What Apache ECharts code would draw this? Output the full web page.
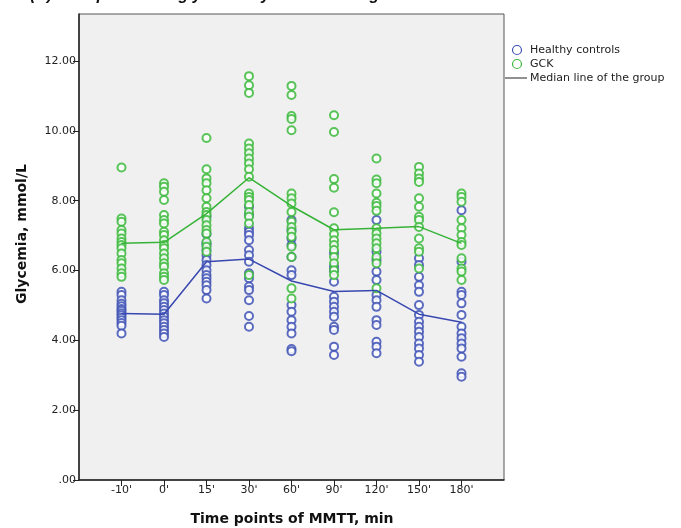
<!DOCTYPE html>
<html>
<head>
<meta charset="utf-8">
<script src="https://cdn.jsdelivr.net/npm/echarts@6/dist/echarts.min.js"></script>
<style>html,body{margin:0;padding:0;background:#fff}#c{width:681px;height:528px}</style>
</head>
<body>
<div id="c"></div>
<script>
var categories = ["-10'", "0'", "15'", "30'", "60'", "90'", "120'", "150'", "180'"];
var yTicks = [0, 2, 4, 6, 8, 10, 12];

var healthyValues = [
  [5.39, 5.30, 5.15, 5.05, 4.98, 4.90, 4.85, 4.78, 4.72, 4.65, 4.58, 4.50, 4.42, 4.20],
  [5.39, 5.30, 5.15, 5.06, 4.96, 4.87, 4.77, 4.68, 4.58, 4.49, 4.39, 4.30, 4.20, 4.10],
  [7.55, 7.05, 6.79, 6.73, 6.59, 6.44, 6.30, 6.16, 6.01, 5.87, 5.78, 5.68, 5.58, 5.44, 5.20],
  [7.83, 7.59, 7.21, 7.11, 7.02, 6.87, 6.59, 6.44, 6.25, 5.92, 5.78, 5.54, 5.44, 5.15, 4.70, 4.39],
  [7.45, 7.16, 6.92, 6.73, 6.39, 6.01, 5.87, 5.01, 4.82, 4.58, 4.39, 4.20, 3.75, 3.69],
  [6.50, 6.11, 6.00, 5.68, 5.25, 5.11, 4.96, 4.82, 4.68, 4.39, 4.30, 3.82, 3.58],
  [7.45, 6.54, 6.30, 5.97, 5.73, 5.30, 5.15, 4.96, 4.58, 4.44, 3.96, 3.82, 3.63],
  [6.35, 6.16, 5.82, 5.58, 5.39, 5.01, 4.73, 4.53, 4.39, 4.25, 4.10, 3.91, 3.77, 3.58, 3.39],
  [7.73, 6.25, 5.39, 5.30, 5.06, 4.73, 4.39, 4.20, 4.06, 3.91, 3.77, 3.53, 3.06, 2.96]
];
var gckValues = [
  [8.95, 7.49, 7.40, 7.16, 7.06, 6.92, 6.82, 6.73, 6.64, 6.49, 6.30, 6.21, 6.06, 5.92, 5.82],
  [8.50, 8.40, 8.26, 8.02, 7.59, 7.45, 7.35, 7.11, 7.02, 6.87, 6.73, 6.64, 6.49, 6.35, 6.21, 6.11, 5.92, 5.82, 5.73],
  [9.80, 8.90, 8.64, 8.50, 8.30, 8.07, 7.83, 7.68, 7.59, 7.45, 7.30, 7.16, 7.06, 6.82, 6.68, 6.54],
  [11.57, 11.31, 11.09, 9.64, 9.50, 9.36, 9.21, 9.07, 8.90, 8.69, 8.21, 8.11, 8.02, 7.88, 7.68, 7.54, 7.35, 5.87],
  [11.29, 11.03, 10.43, 10.34, 10.02, 8.21, 8.07, 7.92, 7.68, 7.40, 7.25, 7.11, 6.97, 6.68, 6.39, 5.49, 5.20],
  [10.45, 9.97, 8.62, 8.37, 7.67, 7.21, 7.04, 6.87, 6.73, 6.59, 6.39, 6.21, 6.01, 5.87],
  [9.21, 8.61, 8.50, 8.21, 7.94, 7.85, 7.71, 7.21, 7.06, 6.92, 6.78, 6.64, 6.39, 6.21, 5.49],
  [8.97, 8.78, 8.64, 8.54, 8.07, 7.83, 7.54, 7.45, 7.25, 6.92, 6.64, 6.54, 6.06],
  [8.21, 8.11, 7.97, 7.45, 7.21, 7.02, 6.82, 6.73, 6.35, 6.06, 5.97, 5.73]
];
var healthyMedian = [4.77, 4.75, 6.25, 6.33, 5.70, 5.40, 5.43, 4.75, 4.52];
var gckMedian = [6.78, 6.81, 7.63, 8.66, 7.85, 7.17, 7.21, 7.26, 6.78];

var BLUE = '#4052b5', GREEN = '#3cba3c';
var FONT = 'DejaVu Sans';

function toPoints(groups) {
  var out = [];
  groups.forEach(function (g, i) { g.forEach(function (v) { out.push([i, v]); }); });
  return out;
}
function toLine(arr) { return arr.map(function (v, i) { return [i, v]; }); }

var idx = categories.map(function (c, i) { return i; });

var chart = echarts.init(document.getElementById('c'), null, {renderer: 'canvas'});
chart.setOption({
  animation: false,
  backgroundColor: '#ffffff',
  grid: {left: 79, right: 177, top: 14, bottom: 48, show: true, backgroundColor: '#f0f0f0', borderColor: '#555', borderWidth: 1},
  xAxis: {
    type: 'value', min: -1, max: 9, interval: 1,
    axisLine: {show: true, onZero: false, lineStyle: {color: '#222', width: 1.5}},
    axisTick: {show: true, length: 6, customValues: idx, lineStyle: {color: '#222', width: 1}},
    axisLabel: {customValues: idx, margin: 5, color: '#222', fontFamily: FONT, fontSize: 11,
      formatter: function (v) { return categories[Math.round(v)]; }},
    splitLine: {show: false}
  },
  yAxis: {
    type: 'value', min: 0, max: 13.35, interval: 2,
    axisLine: {show: true, onZero: false, lineStyle: {color: '#222', width: 1.5}},
    axisTick: {show: true, length: 6, customValues: yTicks, lineStyle: {color: '#222', width: 1}},
    axisLabel: {customValues: yTicks, margin: 3, color: '#222', fontFamily: FONT, fontSize: 11,
      formatter: function (v) { return v === 0 ? '.00' : v.toFixed(2); }},
    splitLine: {show: false}
  },
  series: [
    {name: 'Healthy controls', type: 'scatter', symbol: 'emptyCircle', symbolSize: 8,
     itemStyle: {color: BLUE, borderColor: BLUE, borderWidth: 1.1, opacity: 0.85}, data: toPoints(healthyValues)},
    {name: 'GCK', type: 'scatter', symbol: 'emptyCircle', symbolSize: 8,
     itemStyle: {color: GREEN, borderColor: GREEN, borderWidth: 1.1, opacity: 0.85}, data: toPoints(gckValues)},
    {name: 'Healthy median', type: 'line', symbol: 'none', lineStyle: {color: '#3848b0', width: 1.5}, data: toLine(healthyMedian), z: 3},
    {name: 'GCK median', type: 'line', symbol: 'none', lineStyle: {color: '#36b336', width: 1.5}, data: toLine(gckMedian), z: 3}
  ],
  graphic: [
    {type: 'text', left: 30, top: -12, style: {text: '(A)  Comparison of glycemia dynamics during MMTT: GCK vs controls', fill: '#111', font: 'italic bold 16px "Liberation Sans"'}},
    {type: 'circle', shape: {cx: 517, cy: 50, r: 4.5}, style: {fill: 'none', stroke: BLUE, lineWidth: 1.2}},
    {type: 'text', x: 530, y: 50, style: {text: 'Healthy controls', fill: '#222', font: '11px "DejaVu Sans"', verticalAlign: 'middle'}},
    {type: 'circle', shape: {cx: 517, cy: 64, r: 4.5}, style: {fill: 'none', stroke: GREEN, lineWidth: 1.2}},
    {type: 'text', x: 530, y: 64, style: {text: 'GCK', fill: '#222', font: '11px "DejaVu Sans"', verticalAlign: 'middle'}},
    {type: 'line', shape: {x1: 505, y1: 78, x2: 527, y2: 78}, style: {stroke: '#222', lineWidth: 1}},
    {type: 'text', x: 530, y: 78, style: {text: 'Median line of the group', fill: '#222', font: '11px "DejaVu Sans"', verticalAlign: 'middle'}},
    {type: 'text', x: 22, y: 234, rotation: Math.PI / 2, style: {text: 'Glycemia, mmol/L', fill: '#111', font: 'bold 14px "DejaVu Sans"', align: 'center', verticalAlign: 'middle'}},
    {type: 'text', x: 292, y: 519, style: {text: 'Time points of MMTT, min', fill: '#111', font: 'bold 14px "DejaVu Sans"', align: 'center', verticalAlign: 'middle'}}
  ]
});
</script>
</body>
</html>
